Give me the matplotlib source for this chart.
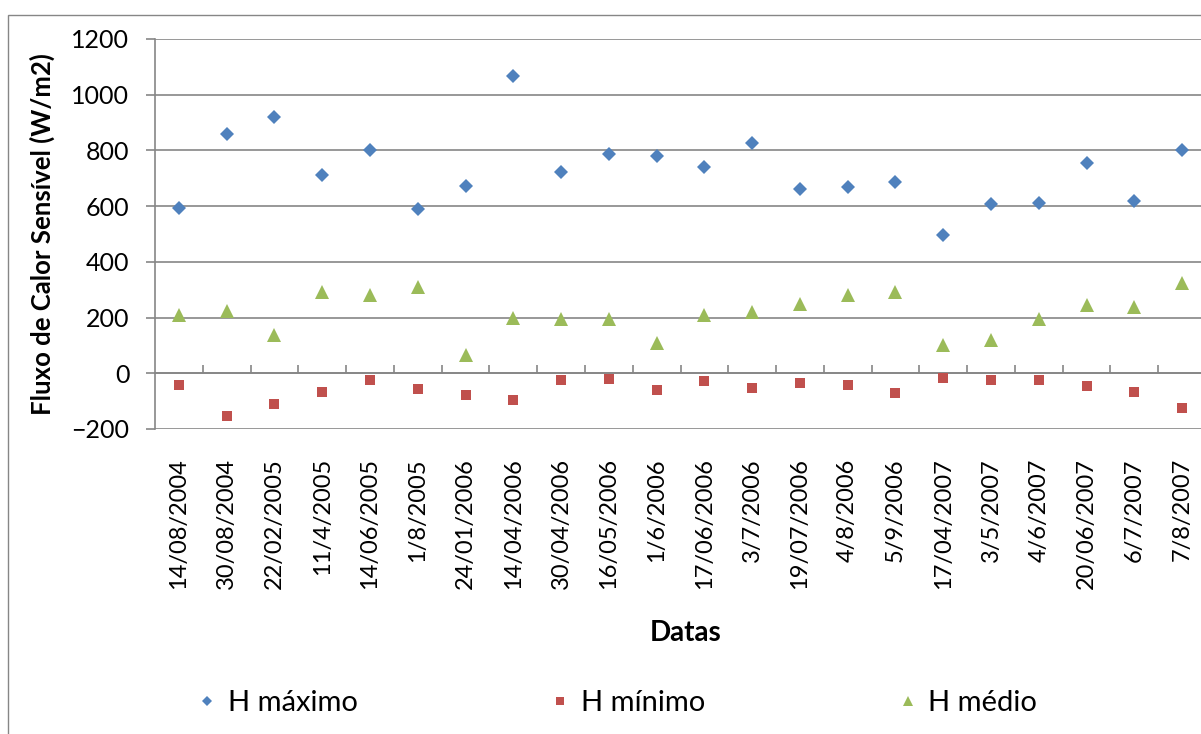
"""Fluxo de calor sensível: H máximo, mínimo e médio por data."""

import matplotlib

matplotlib.use("Agg")
import matplotlib.pyplot as plt
from matplotlib.patches import Rectangle

plt.rcParams["font.family"] = ["Lato", "DejaVu Sans"]

datas = [
    "14/08/2004", "30/08/2004", "22/02/2005", "11/4/2005", "14/06/2005",
    "1/8/2005", "24/01/2006", "14/04/2006", "30/04/2006", "16/05/2006",
    "1/6/2006", "17/06/2006", "3/7/2006", "19/07/2006", "4/8/2006",
    "5/9/2006", "17/04/2007", "3/5/2007", "4/6/2007", "20/06/2007",
    "6/7/2007", "7/8/2007",
]
h_maximo = [594, 858, 920, 710, 803, 588, 674, 1067, 722, 786, 779,
            742, 828, 661, 668, 686, 496, 607, 612, 754, 619, 803]
h_minimo = [-42, -152, -109, -66, -23, -56, -79, -96, -23, -20, -60,
            -26, -54, -35, -42, -70, -17, -24, -24, -44, -66, -125]
h_medio = [208, 224, 138, 293, 281, 311, 65, 199, 194, 196, 108,
           208, 220, 250, 280, 293, 102, 121, 194, 244, 238, 324]

yticks = list(range(-200, 1201, 200))

GRID = "#868686"
BLUE = "#4F81BD"
RED = "#C0504D"
GREEN = "#9BBB59"

fig = plt.figure(figsize=(12.01, 7.34), dpi=100)
W, H = 1201, 734

# chart area border (Excel style)
fig.patches.append(Rectangle((8 / W, -0.1), 1.2, 1.1 - 15 / H,
                             transform=fig.transFigure, fill=False,
                             edgecolor=GRID, linewidth=1.0))

ax = fig.add_axes([155 / W, 1 - 429 / H, (1206 - 155) / W, (429 - 39) / H])

x = list(range(len(datas)))
ax.plot(x, h_maximo, linestyle="none", marker="D", markersize=7.2,
        color=BLUE, markeredgewidth=0, label="H máximo")
ax.plot(x, h_minimo, linestyle="none", marker="s", markersize=7.6,
        color=RED, markeredgewidth=0, label="H mínimo")
ax.plot(x, h_medio, linestyle="none", marker="^", markersize=10.5,
        color=GREEN, markeredgewidth=0, label="H médio")

ax.set_xlim(-0.5, len(datas) - 0.5)
ax.set_ylim(-200, 1200)
ax.set_yticks(yticks)
ax.yaxis.grid(True, color=GRID, linewidth=1.2)
ax.set_axisbelow(True)

for side in ("top", "right", "bottom"):
    ax.spines[side].set_visible(False)
ax.spines["left"].set_color(GRID)
ax.spines["left"].set_linewidth(1.2)

ax.tick_params(axis="y", colors=GRID, length=6.5, width=1.2, pad=12,
               labelsize=18, labelcolor="black")
ax.set_xticks(x)
ax.set_xticklabels(datas, rotation=90, fontsize=17)
ax.tick_params(axis="x", length=0, pad=21)

# category axis crossing at zero, with tick marks between categories
zero_axis = ax.secondary_xaxis(0, transform=ax.transData)
zero_axis.set_xticks([i + 0.5 for i in x[:-1]])
zero_axis.set_xticklabels([])
zero_axis.tick_params(direction="in", length=6, width=1.2, colors=GRID)
zero_axis.spines["bottom"].set_color(GRID)
zero_axis.spines["bottom"].set_linewidth(1.2)

fig.text(686 / W, 1 - 633 / H, "Datas", fontsize=20, fontweight="bold",
         ha="center", va="center")
fig.text(42 / W, 1 - 234 / H, "Fluxo de Calor Sensível (W/m2)", fontsize=18.5,
         fontweight="bold", rotation=90, ha="center", va="center")

fig.legend(loc="center", bbox_to_anchor=(617 / W, 1 - 703 / H), ncol=3,
           frameon=False, fontsize=21, markerscale=0.7, handlelength=0.7,
           handletextpad=0.35, columnspacing=6.6)

fig.savefig("out.png", dpi=100)
plt.close(fig)
